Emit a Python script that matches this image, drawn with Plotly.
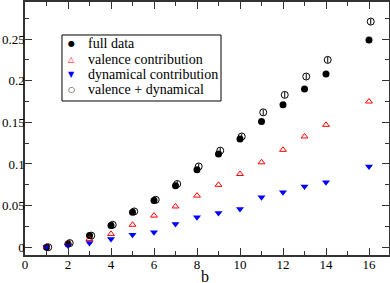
import plotly.graph_objects as go

b = [1, 2, 3, 4, 5, 6, 7, 8, 9, 10, 11, 12, 13, 14, 16]
full_data = [0.000, 0.004, 0.014, 0.026, 0.042, 0.056, 0.074, 0.093, 0.112, 0.130, 0.151, 0.171, 0.190, 0.208, 0.249]
valence = [0.001, 0.005, 0.010, 0.016, 0.027, 0.038, 0.049, 0.062, 0.075, 0.088, 0.102, 0.117, 0.133, 0.147, 0.175]
dynamical = [0.000, 0.002, 0.005, 0.010, 0.015, 0.018, 0.028, 0.036, 0.041, 0.046, 0.060, 0.066, 0.073, 0.078, 0.097]
val_plus_dyn = [0.000, 0.005, 0.014, 0.027, 0.043, 0.057, 0.076, 0.097, 0.116, 0.133, 0.162, 0.183, 0.205, 0.225, 0.271]
val_plus_dyn_err = 0.0035
b_shift = [v + 0.08 for v in b]

series_names = ["full data", "valence contribution", "dynamical contribution", "valence + dynamical"]
legend_glyphs = ["\u25CF", "\u25B3", "\u25BC", "\u25CB"]
legend_colors = ["black", "red", "blue", "black"]

y_tickvals = [0, 0.05, 0.1, 0.15, 0.2, 0.25]
y_ticktext = ["0", "0.05", "0.1", "0.15", "0.2", "0.25"]

FONT = "Liberation Serif, DejaVu Serif, Times New Roman, serif"

fig = go.Figure()
fig.add_trace(go.Scatter(x=b, y=full_data, mode="markers", name=series_names[0],
                         marker=dict(symbol="circle", size=7, color="black")))
fig.add_trace(go.Scatter(x=b, y=valence, mode="markers", name=series_names[1],
                         marker=dict(symbol="triangle-up-open", size=6, color="red", line=dict(width=1))))
fig.add_trace(go.Scatter(x=b, y=dynamical, mode="markers", name=series_names[2],
                         marker=dict(symbol="triangle-down", size=7, color="blue")))
fig.add_trace(go.Scatter(x=b_shift, y=val_plus_dyn, mode="markers", name=series_names[3],
                         error_y=dict(type="constant", value=val_plus_dyn_err, width=0,
                                      thickness=1, color="black"),
                         marker=dict(symbol="circle-open", size=7, color="black", line=dict(width=1))))

axis_common = dict(showgrid=False, zeroline=False, showline=True, linecolor="#333", linewidth=1.5,
                   mirror="ticks", ticks="inside", ticklen=7, tickcolor="#333", tickwidth=1,
                   automargin=False,
                   tickfont=dict(family=FONT, size=13, color="black"))

fig.update_xaxes(range=[0, 16.93], tick0=0, dtick=2, ticklabelstandoff=-3,
                 minor=dict(dtick=1, ticks="inside", ticklen=4, tickcolor="#333"),
                 **axis_common)
fig.update_yaxes(range=[-0.0093, 0.2945], ticklabelstandoff=-4,
                 tickvals=y_tickvals, ticktext=y_ticktext,
                 minor=dict(dtick=0.025, ticks="inside", ticklen=4, tickcolor="#333"),
                 **axis_common)

fig.add_annotation(text="b", xref="paper", yref="paper", x=0.495, y=-0.083,
                   xanchor="center", yanchor="middle", showarrow=False, height=16,
                   valign="middle",
                   font=dict(family=FONT, size=16, color="black"))

# legend box (custom, to match compact spacing)
fig.add_shape(type="rect", xref="paper", yref="paper",
              x0=0.1016, x1=0.5385, y0=0.6087, y1=0.8696,
              line=dict(color="black", width=1), fillcolor="white", layer="above")
item_y = [0.834, 0.7747, 0.7154, 0.656]
for name, glyph, col, yy in zip(series_names, legend_glyphs, legend_colors, item_y):
    fig.add_annotation(text=glyph, xref="paper", yref="paper", x=0.1264, y=yy,
                       xanchor="center", yanchor="middle", showarrow=False,
                       font=dict(family="DejaVu Sans", size=8, color=col))
    fig.add_annotation(text=name, xref="paper", yref="paper", x=0.1676, y=yy,
                       xanchor="left", yanchor="middle", showarrow=False,
                       font=dict(family=FONT, size=14, color="black"))

fig.update_layout(
    width=390, height=283,
    margin=dict(l=25, r=1, t=2, b=28),
    plot_bgcolor="white", paper_bgcolor="white",
    font=dict(family=FONT, size=13, color="black"),
    showlegend=False,
)

fig.write_html("out.html", config={"displayModeBar": False},
               post_script="document.body.style.margin='0';document.body.style.padding='0';")
